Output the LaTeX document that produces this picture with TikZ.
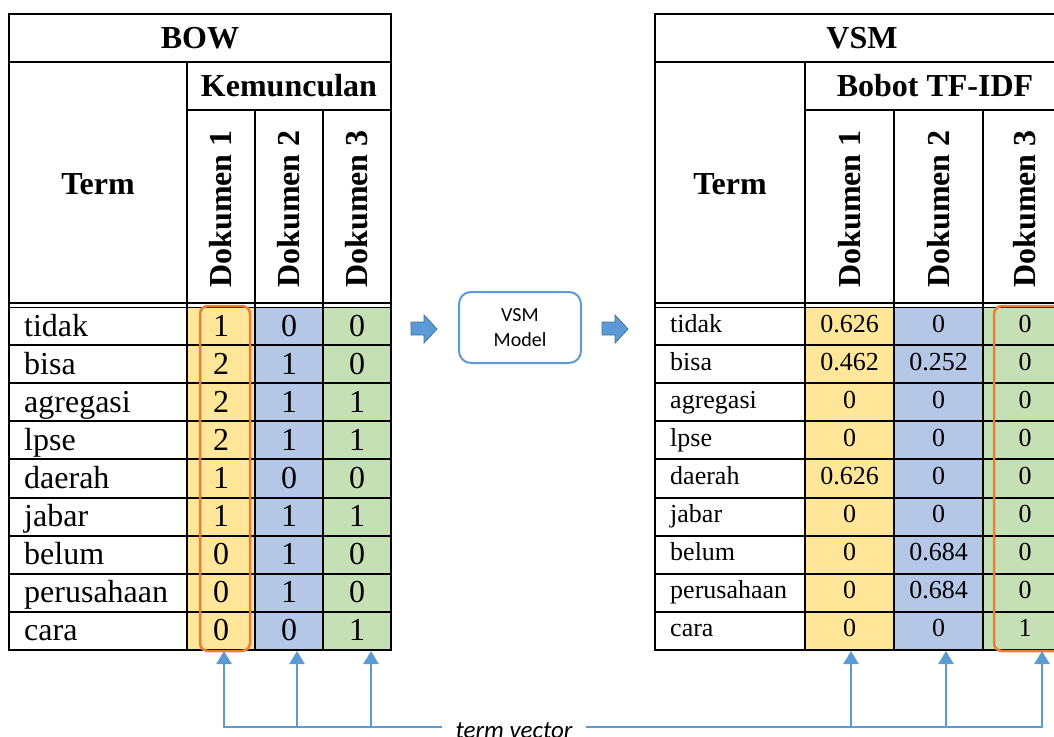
\documentclass[tikz,border=0pt]{standalone}
\usepackage{fontspec}
\setmainfont{Liberation Serif}
\newfontfamily\calib{Carlito}
\usetikzlibrary{arrows.meta}
\definecolor{cellyellow}{HTML}{FFE699}
\definecolor{cellblue}{HTML}{B4C7E7}
\definecolor{cellgreen}{HTML}{C5E0B4}
\definecolor{vecorange}{HTML}{ED7D31}
\definecolor{linkblue}{HTML}{5B9BD5}
\definecolor{arrowedge}{HTML}{41719C}

% grid of one table: column borders #1..#5
\newcommand{\tablegrid}[5]{%
  \fill[cellyellow] (#2,307) rectangle (#3,650);
  \fill[cellblue]   (#3,307) rectangle (#4,650);
  \fill[cellgreen]  (#4,307) rectangle (#5,650);
  \draw[grid] (#1,14) rectangle (#5,650);
  \draw[grid] (#1,62) -- (#5,62);
  \draw[grid] (#2,110) -- (#5,110);
  \draw[grid] (#2,62) -- (#2,650);
  \draw[grid] (#3,110) -- (#3,650);
  \draw[grid] (#4,110) -- (#4,650);
  \draw[line width=1.4pt] (#1,303) -- (#5,303) (#1,307.5) -- (#5,307.5);
  \foreach \k in {1,...,8} \draw[grid] (#1,307+38.11*\k) -- (#5,307+38.11*\k);
}

\begin{document}
\begin{tikzpicture}[x=1pt,y=-1pt,
  grid/.style={line width=2pt,black},
  hdr/.style={inner sep=0,font=\fontsize{32}{36}\selectfont\bfseries},
  dochdr/.style={hdr,rotate=90},
  termL/.style={anchor=base west,inner sep=0,font=\fontsize{32}{36}\selectfont},
  numL/.style={anchor=base,inner sep=0,font=\fontsize{32}{36}\selectfont},
  termR/.style={anchor=base west,inner sep=0,font=\fontsize{26}{30}\selectfont},
  numR/.style={anchor=base,inner sep=0,font=\fontsize{26}{30}\selectfont},
  vecbox/.style={draw=vecorange,line width=2.5pt,rounded corners=8pt},
  link/.style={draw=linkblue,line width=2.5pt},
  tip/.style={-{Triangle[width=15pt,length=13pt]}},
  blockarrow/.style={fill=linkblue,draw=arrowedge,line width=0.8pt},
  modelbox/.style={draw=linkblue,line width=2pt,rounded corners=12pt,
    minimum width=122pt,minimum height=71pt,align=center,
    font=\calib\fontsize{20}{25}\selectfont}]
\clip (0,0) rectangle (1054,736);

% ---------- BOW table ----------
\tablegrid{9}{187}{255}{323}{391}
\node[hdr] (bow) at (200,38) {BOW};
\node[hdr] (kem) at (289,86) {Kemunculan};
\node[hdr] (termA) at (98,184) {Term};
\node[dochdr] (dA1) at (221,209) {Dokumen 1};
\node[dochdr] (dA2) at (289,209) {Dokumen 2};
\node[dochdr] (dA3) at (357,209) {Dokumen 3};
\foreach \t/\a/\b/\c [count=\i from 0] in {tidak/1/0/0, bisa/2/1/0, agregasi/2/1/1,
    lpse/2/1/1, daerah/1/0/0, jabar/1/1/1, belum/0/1/0, perusahaan/0/1/0, cara/0/0/1}{
  \node[termL] (lt\i) at (24,336+38.11*\i) {\t};
  \node[numL] (la\i) at (221,336+38.11*\i) {\a};
  \node[numL] (lb\i) at (289,336+38.11*\i) {\b};
  \node[numL] (lc\i) at (357,336+38.11*\i) {\c};
}

% ---------- VSM table ----------
\tablegrid{655}{805}{894}{983}{1067}
\node[hdr] (vsm) at (862,38) {VSM};
\node[hdr] (bob) at (935,86) {Bobot TF-IDF};
\node[hdr] (termB) at (730,184) {Term};
\node[dochdr] (dB1) at (849.5,209) {Dokumen 1};
\node[dochdr] (dB2) at (938.5,209) {Dokumen 2};
\node[dochdr] (dB3) at (1025,209) {Dokumen 3};
\foreach \t/\a/\b/\c [count=\i from 0] in {tidak/0.626/0/0, bisa/0.462/0.252/0,
    agregasi/0/0/0, lpse/0/0/0, daerah/0.626/0/0, jabar/0/0/0, belum/0/0.684/0,
    perusahaan/0/0.684/0, cara/0/0/1}{
  \node[termR] (rt\i) at (670,332+38.11*\i) {\t};
  \node[numR] (ra\i) at (849.5,332+38.11*\i) {\a};
  \node[numR] (rb\i) at (938.5,332+38.11*\i) {\b};
  \node[numR] (rc\i) at (1025,332+38.11*\i) {\c};
}

% ---------- highlighted term vectors ----------
\draw[vecbox] (200,306) rectangle (250,651);
\draw[vecbox] (994,306) rectangle (1062,651);

% ---------- model step ----------
\fill[blockarrow] (411,322) -- (424,322) -- (424,315) -- (437,329)
  -- (424,343) -- (424,335) -- (411,335) -- cycle;
\node[modelbox] (model) at (520,327.5) {VSM\\Model};
\fill[blockarrow] (602,322) -- (615,322) -- (615,315) -- (628,329)
  -- (615,343) -- (615,335) -- (602,335) -- cycle;

% ---------- term vector connectors ----------
\node[inner sep=0,anchor=base,font=\calib\itshape\fontsize{25}{30}\selectfont]
  (tv) at (514,738) {term vector};
\coordinate (gapL) at (442,727);
\coordinate (gapR) at (586,727);
\foreach \n/\x in {L1/224,L2/297,L3/371,R1/851,R2/946,R3/1042}{
  \coordinate (h\n) at (\x,727);
  \coordinate (t\n) at (\x,651);
}
\draw[link,tip] (gapL) -- (hL1) -- (tL1);
\draw[link,tip] (hL2) -- (tL2);
\draw[link,tip] (hL3) -- (tL3);
\draw[link,tip] (gapR) -- (hR3) -- (tR3);
\draw[link,tip] (hR1) -- (tR1);
\draw[link,tip] (hR2) -- (tR2);
\end{tikzpicture}
\end{document}
